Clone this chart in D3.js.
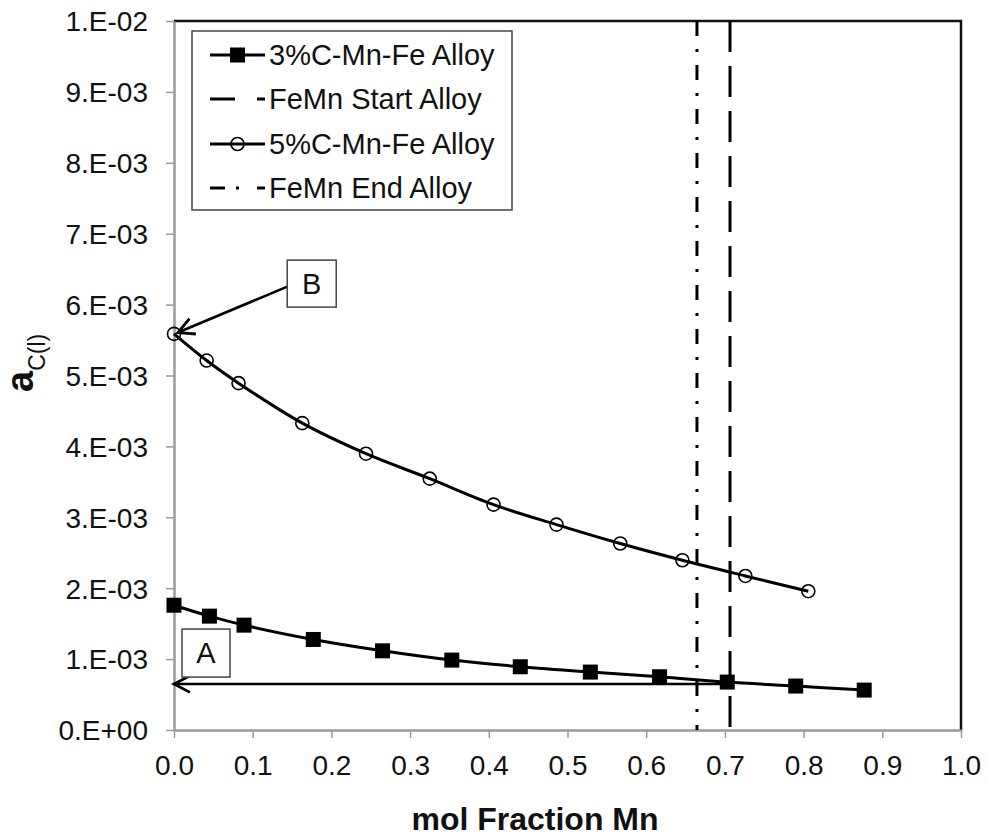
<!DOCTYPE html>
<html><head><meta charset="utf-8">
<script src="https://cdn.jsdelivr.net/npm/d3@7"></script>
<style>body{margin:0;background:#fff}svg{display:block}text{font-family:"Liberation Sans",Arial,sans-serif}</style>
</head><body>
<svg id="c" width="987" height="839"></svg>
<script>
// ---- data ----
const xMn3 = [0, 0.045, 0.089, 0.177, 0.265, 0.353, 0.440, 0.529, 0.617, 0.703, 0.790, 0.877];
const aC3 = [1.76e-3, 1.606e-3, 1.479e-3, 1.277e-3, 1.117e-3, 0.986e-3, 0.892e-3, 0.817e-3, 0.751e-3, 0.676e-3, 0.620e-3, 0.563e-3];
const xMn5 = [0, 0.0415, 0.082, 0.163, 0.244, 0.325, 0.406, 0.486, 0.567, 0.646, 0.726, 0.806];
const aC5 = [5.587e-3, 5.211e-3, 4.892e-3, 4.328e-3, 3.897e-3, 3.545e-3, 3.179e-3, 2.897e-3, 2.630e-3, 2.394e-3, 2.173e-3, 1.958e-3];
const startAlloyX = 0.7065;
const endAlloyX = 0.6645;
const xTicks = [0,0.1,0.2,0.3,0.4,0.5,0.6,0.7,0.8,0.9,1.0];
const yTicks = [0,1e-3,2e-3,3e-3,4e-3,5e-3,6e-3,7e-3,8e-3,9e-3,1e-2];
const yTickLabels = ["0.E+00","1.E-03","2.E-03","3.E-03","4.E-03","5.E-03","6.E-03","7.E-03","8.E-03","9.E-03","1.E-02"];
const legendLabels = ["3%C-Mn-Fe Alloy","FeMn Start Alloy","5%C-Mn-Fe Alloy","FeMn End Alloy"];
const annA = {label:"A", boxX:0.0407, boxY:1.085e-3, fromX:startAlloyX, fromY:0.648e-3, toX:0, toY:0.648e-3};
const annB = {label:"B", boxX:0.175, boxY:6.296e-3, fromX:0.144, fromY:6.254e-3, toX:0.005, toY:5.606e-3};

// ---- layout ----
const L=174, R=961, T=21, B=730;
const svg = d3.select("#c");
const x = d3.scaleLinear().domain([0,1]).range([L,R]);
const y = d3.scaleLinear().domain([0,0.01]).range([B,T]);
const axisGray = "#9a9a9a";

// frame top/right
svg.append("path").attr("d",`M${L},${T}H${R}V${B}`).attr("fill","none").attr("stroke","#111").attr("stroke-width",2.5);

// axes
const xa = svg.append("g").attr("transform",`translate(0,${B})`)
  .call(d3.axisBottom(x).tickValues(xTicks).tickFormat(d3.format(".1f")).tickSize(8).tickSizeOuter(0));
const ya = svg.append("g").attr("transform",`translate(${L},0)`)
  .call(d3.axisLeft(y).tickValues(yTicks).tickFormat((d,i)=>yTickLabels[i]).tickSize(8).tickSizeOuter(0));
[xa,ya].forEach(g=>{
  g.select(".domain").attr("stroke",axisGray).attr("stroke-width",2.5);
  g.selectAll(".tick line").attr("stroke",axisGray).attr("stroke-width",1.5);
  g.selectAll("text").attr("fill","#111").style("font-family",'"Liberation Sans",Arial,sans-serif');
});
xa.selectAll("text").attr("font-size",28).attr("dy",0).attr("y",45);
ya.selectAll("text").attr("font-size",28).attr("x",-26).attr("dy","0.35em");

// vertical alloy lines
svg.append("line").attr("x1",x(endAlloyX)).attr("x2",x(endAlloyX)).attr("y1",T).attr("y2",B)
  .attr("stroke","#000").attr("stroke-width",3).attr("stroke-dasharray","15,13,3,13");
svg.append("line").attr("x1",x(startAlloyX)).attr("x2",x(startAlloyX)).attr("y1",T).attr("y2",B)
  .attr("stroke","#000").attr("stroke-width",3).attr("stroke-dasharray","31,14");

// series
const line = d3.line().x(d=>x(d[0])).y(d=>y(d[1])).curve(d3.curveCatmullRom.alpha(0.5));
const s3 = xMn3.map((v,i)=>[v,aC3[i]]);
const s5 = xMn5.map((v,i)=>[v,aC5[i]]);
svg.append("path").attr("d",line(s3)).attr("fill","none").attr("stroke","#000").attr("stroke-width",3);
svg.append("path").attr("d",line(s5)).attr("fill","none").attr("stroke","#000").attr("stroke-width",3);

function arrow(a){
  const x1=x(a.fromX), y1=y(a.fromY), x2=x(a.toX), y2=y(a.toY);
  svg.append("line").attr("x1",x1).attr("y1",y1).attr("x2",x2).attr("y2",y2).attr("stroke","#000").attr("stroke-width",2.6);
  const ang=Math.atan2(y1-y2,x1-x2), len=18, sp=0.48;
  svg.append("path").attr("d",`M${x2+len*Math.cos(ang+sp)},${y2+len*Math.sin(ang+sp)}L${x2},${y2}L${x2+len*Math.cos(ang-sp)},${y2+len*Math.sin(ang-sp)}`)
    .attr("fill","none").attr("stroke","#000").attr("stroke-width",2.8);
}
arrow(annA);

svg.append("g").selectAll("rect").data(s3).join("rect")
  .attr("x",d=>x(d[0])-7.5).attr("y",d=>y(d[1])-7.5).attr("width",15).attr("height",15).attr("fill","#000");
svg.append("g").selectAll("circle").data(s5).join("circle")
  .attr("cx",d=>x(d[0])).attr("cy",d=>y(d[1])).attr("r",6.5).attr("fill","none").attr("stroke","#000").attr("stroke-width",1.6);

arrow(annB);

// annotation boxes
function box(a,w,h){
  const cx=x(a.boxX), cy=y(a.boxY);
  svg.append("rect").attr("x",cx-w/2).attr("y",cy-h/2).attr("width",w).attr("height",h)
    .attr("fill","#fff").attr("stroke","#444").attr("stroke-width",1.5);
  svg.append("text").attr("x",cx).attr("y",cy+10).attr("text-anchor","middle").attr("font-size",29).attr("fill","#111").text(a.label);
}
box(annA,48,48);
box(annB,49,47);

// legend
const lg = svg.append("g");
lg.append("rect").attr("x",192).attr("y",31).attr("width",320).attr("height",179).attr("fill","#fff").attr("stroke","#444").attr("stroke-width",1.5);
const rows=[55,99,144,188];
legendLabels.forEach((t,i)=>{
  const yy=rows[i];
  const g=lg.append("g");
  if(i===0||i===2){
    g.append("line").attr("x1",210).attr("x2",265).attr("y1",yy).attr("y2",yy).attr("stroke","#000").attr("stroke-width",3);
    if(i===0) g.append("rect").attr("x",230).attr("y",yy-7.5).attr("width",15).attr("height",15).attr("fill","#000");
    else g.append("circle").attr("cx",237.5).attr("cy",yy).attr("r",6.5).attr("fill","none").attr("stroke","#000").attr("stroke-width",1.6);
  } else if(i===1){
    g.append("line").attr("x1",210).attr("x2",265).attr("y1",yy).attr("y2",yy).attr("stroke","#000").attr("stroke-width",3).attr("stroke-dasharray","25,22,8");
  } else {
    g.append("line").attr("x1",210).attr("x2",265).attr("y1",yy).attr("y2",yy).attr("stroke","#000").attr("stroke-width",3).attr("stroke-dasharray","15,11,3,18,8");
  }
  g.append("text").attr("x",269).attr("y",yy+10).attr("font-size",29).attr("fill","#111").text(t);
});

// axis titles
svg.append("text").attr("x",535).attr("y",830).attr("text-anchor","middle").attr("font-size",32).attr("font-weight","bold").attr("fill","#111").text("mol Fraction Mn");
const yt = svg.append("text").attr("transform","translate(33,392) rotate(-90)").attr("fill","#111");
yt.append("tspan").attr("font-size",38).attr("font-weight","bold").text("a");
yt.append("tspan").attr("font-size",23).attr("dy",12).text("C(l)");
</script>
</body></html>
